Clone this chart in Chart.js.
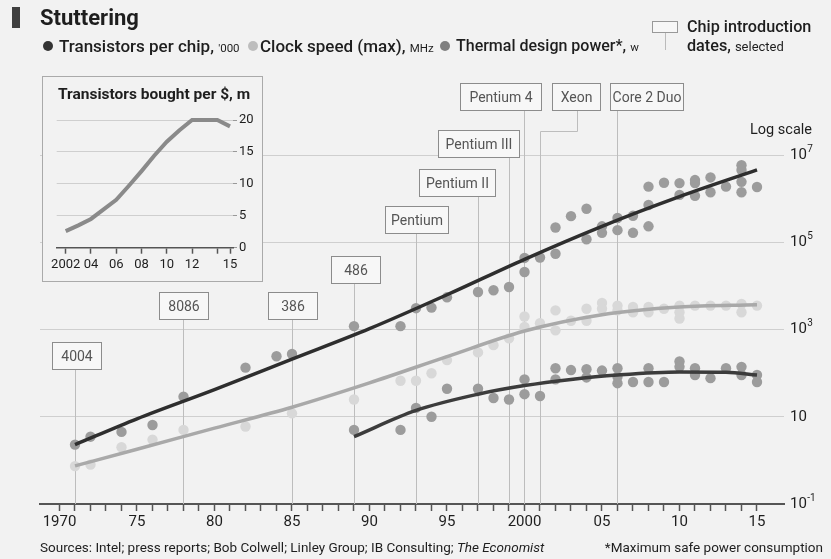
<!DOCTYPE html>
<html>
<head>
<meta charset="utf-8">
<script src="https://cdn.jsdelivr.net/npm/chart.js@4.4.1/dist/chart.umd.min.js"></script>
<style>
  body { margin: 0; background: #f2f2f2; }
  #wrap { position: relative; width: 831px; height: 559px; overflow: hidden;
          font-family: Roboto, "DejaVu Sans", sans-serif; color: #1e1e1e; background: #f2f2f2; }
  #main { position: absolute; left: 0; top: 0; }
  .abs { position: absolute; white-space: nowrap; line-height: 1; }
  #bar { left: 12px; top: 7px; width: 8px; height: 21px; background: #404040; }
  #title { left: 40px; top: 7px; font-size: 22px; font-weight: bold; }
  .dot { width: 10px; height: 10px; border-radius: 50%; top: 41px; }
  .leg { top: 38px; font-size: 17px; font-weight: 500; }
  .unit { font-size: 11.5px; font-weight: normal; }
  #chipIcon { left: 652px; top: 21px; width: 26px; height: 12px; border: 1px solid #999; background: #f7f7f7; box-sizing: border-box; }
  #chipStem { left: 665px; top: 33px; width: 1px; height: 17px; background: #bbb; }
  #chip1 { left: 687px; top: 19px; font-size: 16.2px; font-weight: 500; }
  #chip2 { left: 687px; top: 38px; font-size: 16.2px; font-weight: 500; }
  #inset { left: 42px; top: 76px; width: 221px; height: 206px; border: 1px solid #aaa;
           background: #f2f2f2; box-sizing: border-box; }
  #insetTitle { left: 15px; top: 10px; font-size: 15.5px; font-weight: bold; }
  #insetCanvas { position: absolute; left: 0; top: 0; }
  #src { left: 40px; top: 541px; font-size: 13.5px; }
  #note { right: 8px; top: 541px; font-size: 13.5px; }
</style>
</head>
<body>
<div id="wrap">
  <canvas id="main" width="831" height="559"></canvas>

  <div id="bar" class="abs"></div>
  <div id="title" class="abs">Stuttering</div>

  <div class="abs dot" style="left:43px;background:#333"></div>
  <div class="abs leg" style="left:59px">Transistors per chip, <span class="unit">'000</span></div>
  <div class="abs dot" style="left:248px;background:#bdbdbd"></div>
  <div class="abs leg" style="left:260px">Clock speed (max), <span class="unit">MHz</span></div>
  <div class="abs dot" style="left:440px;background:#808080"></div>
  <div class="abs leg" style="left:456px;font-size:16px">Thermal design power*, <span class="unit">w</span></div>

  <div id="chipIcon" class="abs"></div>
  <div id="chipStem" class="abs"></div>
  <div id="chip1" class="abs">Chip introduction</div>
  <div id="chip2" class="abs">dates, <span class="unit" style="font-size:13px">selected</span></div>

  <div id="inset" class="abs">
    <canvas id="insetCanvas" width="219" height="204"></canvas>
    <div id="insetTitle" class="abs">Transistors bought per $, m</div>
  </div>

  <div id="src" class="abs">Sources: Intel; press reports; Bob Colwell; Linley Group; IB Consulting; <i>The Economist</i></div>
  <div id="note" class="abs">*Maximum safe power consumption</div>
</div>

<script>
/* ---- data ---- */

// transistors per chip, '000
const transYears = [1971, 1972, 1974, 1976, 1978, 1982, 1984, 1985, 1989, 1992, 1993, 1994, 1995, 1997, 1998, 1999,
  2000, 2000, 2001, 2002, 2002, 2003, 2004, 2004, 2005, 2005, 2006, 2006, 2007, 2007, 2008, 2008, 2008, 2009,
  2010, 2010, 2011, 2011, 2011, 2012, 2012, 2013, 2014, 2014, 2014, 2014, 2015];
const transValues = [2.3, 3.5, 4.5, 6.5, 29, 134, 245, 275, 1200, 1200, 3100, 3200, 5500, 7300, 8000, 9500,
  44000, 21000, 45000, 220000, 55000, 400000, 590000, 118000, 234000, 166000, 363000, 191000, 407000, 166000,
  1900000, 720000, 234000, 2340000, 2290000, 1230000, 2690000, 2290000, 1170000, 3090000, 1410000, 1900000,
  5900000, 4570000, 2450000, 1410000, 1860000];

// clock speed (max), MHz
const clockYears = [1971, 1972, 1974, 1976, 1978, 1982, 1985, 1989, 1992, 1993, 1994, 1995, 1997, 1998, 1999,
  2000, 2000, 2001, 2002, 2002, 2003, 2004, 2004, 2005, 2005, 2006, 2006, 2007, 2007, 2008, 2008, 2009,
  2010, 2010, 2010, 2011, 2012, 2013, 2014, 2014, 2015];
const clockValues = [0.74, 0.8, 2, 3, 5, 6, 12, 25, 67, 67, 100, 200, 300, 440, 630,
  2000, 1150, 1400, 2760, 960, 1600, 3000, 1600, 4100, 3000, 3550, 2760, 3300, 2500, 3300, 2500, 3000,
  3550, 2500, 1800, 3550, 3550, 3550, 3900, 2500, 3550];

// thermal design power, w
const powerYears = [1989, 1992, 1993, 1994, 1995, 1997, 1998, 1999, 2000, 2000, 2001, 2002, 2002, 2003, 2004, 2004,
  2005, 2006, 2006, 2006, 2007, 2008, 2008, 2009, 2010, 2010, 2011, 2011, 2012, 2013, 2014, 2014, 2015, 2015];
const powerValues = [5, 5, 16, 10, 44, 44, 27, 25, 72, 33, 30, 130, 72, 118, 123, 80,
  115, 130, 83, 59, 63, 130, 63, 63, 185, 140, 130, 91, 77, 130, 140, 91, 91, 63];

// trend lines
const trendYears = [1971, 1975, 1980, 1985, 1990, 1995, 2000, 2005, 2010, 2015];
const transTrend = [2.3, 9, 42, 210, 1050, 6300, 41000, 234000, 1120000, 4600000];
const clockTrend = [0.75, 1.8, 5.5, 16.6, 60, 240, 930, 2200, 3300, 3700];
const powerTrendYears = [1989, 1993, 1997, 2000, 2003, 2006, 2010, 2013, 2015];
const powerTrend = [3.5, 14, 33, 52, 72, 91, 107, 105, 91];

// chip introduction dates
const chipNames = ['4004', '8086', '386', '486', 'Pentium', 'Pentium II', 'Pentium III', 'Pentium 4', 'Xeon', 'Core 2 Duo'];
const chipYears = [1971, 1978, 1985, 1989, 1993, 1997, 1999, 2000, 2001, 2006];

// axis ticks
const yTickValues = [0.1, 10, 1000, 100000, 10000000];
const yTickExp = ['-1', '', '3', '5', '7'];
const xTickYears = [];
for (let yr = 1970; yr <= 2015; yr++) xTickYears.push(yr);

// inset: transistors bought per $, m
const insetYears = [2002, 2003, 2004, 2005, 2006, 2007, 2008, 2009, 2010, 2011, 2012, 2013, 2014, 2015];
const insetValues = [2.6, 3.5, 4.5, 6.0, 7.5, 9.7, 12.0, 14.4, 16.6, 18.4, 20, 20, 20, 19];
const insetTicks = [2002, 2004, 2006, 2008, 2010, 2012, 2014, 2015];
const insetTickLabels = ['2002', '04', '06', '08', '10', '12', '', '15'];

const FONT = 'Roboto, "DejaVu Sans", sans-serif';

function pts(xs, ys) {
  return xs.map((x, i) => ({ x: x, y: ys[i] }));
}

/* box placement for the chip labels: [left offset from its line, top, width] */
const chipBoxes = [
  [-24, 342, 49], [-24.5, 292, 49], [-25, 292, 49], [-24, 256, 49], [-32, 206, 63],
  [-59.5, 169, 76], [-71.5, 130, 81], [-64.5, 83, 81], [11.5, 83, 48], [-8, 83, 73]
];

const chipPlugin = {
  id: 'chips',
  beforeDatasetsDraw(chart) {
    const ctx = chart.ctx, xs = chart.scales.x, bottom = chart.chartArea.bottom;
    ctx.save();
    chipYears.forEach((yr, i) => {
      const lx = Math.round(xs.getPixelForValue(yr)) + 0.5;
      const b = chipBoxes[i], h = 27;
      const bx = Math.round(lx + b[0]) + 0.5, top = b[1] + 0.5, w = b[2];
      ctx.strokeStyle = '#bdbdbd';
      ctx.lineWidth = 1;
      ctx.beginPath();
      if (b[0] > 0) {
        const cx = Math.round(bx + w / 2) + 0.5;
        ctx.moveTo(cx, top + h);
        ctx.lineTo(cx, top + h + 21);
        ctx.lineTo(lx, top + h + 21);
        ctx.lineTo(lx, bottom);
      } else {
        ctx.moveTo(lx, top + h);
        ctx.lineTo(lx, bottom);
      }
      ctx.stroke();
      ctx.fillStyle = '#f7f7f7';
      ctx.fillRect(bx, top, w, h);
      ctx.strokeStyle = '#8c8c8c';
      ctx.strokeRect(bx, top, w, h);
      ctx.fillStyle = '#555';
      ctx.font = '14px ' + FONT;
      ctx.textAlign = 'center';
      ctx.textBaseline = 'middle';
      ctx.fillText(chipNames[i], bx + w / 2, top + h / 2 + 1);
    });
    ctx.restore();
  }
};

/* y labels with superscript exponents */
const yLabelPlugin = {
  id: 'ylabels',
  afterDraw(chart) {
    const ctx = chart.ctx, ys = chart.scales.y, x0 = chart.chartArea.right + 6;
    ctx.save();
    ctx.fillStyle = '#1e1e1e';
    ctx.textAlign = 'left';
    ctx.textBaseline = 'middle';
    yTickValues.forEach((v, i) => {
      const py = ys.getPixelForValue(v);
      ctx.font = '15px ' + FONT;
      ctx.fillText('10', x0, py);
      const w = ctx.measureText('10').width;
      ctx.font = '10px ' + FONT;
      ctx.fillText(yTickExp[i], x0 + w + 0.5, py - 6);
    });
    ctx.font = '14.5px ' + FONT;
    ctx.textAlign = 'right';
    ctx.fillText('Log scale', 812, 130);
    ctx.restore();
  }
};

const dotStyle = { type: 'scatter', pointRadius: 5.2, pointHoverRadius: 5.2, borderWidth: 0, order: 2 };
const lineStyle = { type: 'line', pointRadius: 0, borderWidth: 3.5, cubicInterpolationMode: 'monotone', fill: false, order: 1 };

new Chart(document.getElementById('main'), {
  type: 'scatter',
  data: {
    datasets: [
      Object.assign({ data: pts(transYears, transValues), backgroundColor: '#9c9c9c' }, dotStyle),
      Object.assign({ data: pts(clockYears, clockValues), backgroundColor: '#d8d8d8' }, dotStyle),
      Object.assign({ data: pts(powerYears, powerValues), backgroundColor: '#9c9c9c' }, dotStyle),
      Object.assign({ data: pts(trendYears, transTrend), borderColor: '#2e2e2e' }, lineStyle),
      Object.assign({ data: pts(trendYears, clockTrend), borderColor: '#a9a9a9' }, lineStyle),
      Object.assign({ data: pts(powerTrendYears, powerTrend), borderColor: '#3c3c3c' }, lineStyle)
    ]
  },
  options: {
    responsive: false,
    animation: false,
    layout: { padding: { left: 40, top: 80, right: 0, bottom: 0 } },
    plugins: { legend: { display: false }, tooltip: { enabled: false } },
    scales: {
      x: {
        type: 'linear',
        min: 1970 + (40 - 59.5) / 15.5,
        max: 1970 + (784 - 59.5) / 15.5,
        afterBuildTicks: s => { s.ticks = xTickYears.map(v => ({ value: v })); },
        afterFit: s => { s.height = 55; },
        border: { display: true, color: '#555', width: 2 },
        grid: { drawOnChartArea: false, drawTicks: true, tickLength: 7, tickColor: '#555', tickWidth: 1.5 },
        ticks: {
          autoSkip: false, maxRotation: 0, padding: 2, color: '#1e1e1e',
          font: { family: FONT, size: 15 },
          callback: v => (v % 5 !== 0 ? '' : (v === 1970 || v === 2000 ? String(v) : String(v).slice(2)))
        }
      },
      y: {
        type: 'logarithmic',
        position: 'right',
        min: 0.1,
        max: Math.pow(10, (504 - 80) / 43.6 - 1),
        afterBuildTicks: s => { s.ticks = yTickValues.map(v => ({ value: v })); },
        afterFit: s => { s.width = 47; },
        border: { display: false },
        grid: { color: c => (c.tick && c.tick.value === 0.1 ? 'rgba(0,0,0,0)' : '#cfcfcf'), drawTicks: false },
        ticks: { display: false }
      }
    }
  },
  plugins: [chipPlugin, yLabelPlugin]
});

/* inset chart */
new Chart(document.getElementById('insetCanvas'), {
  type: 'line',
  data: {
    datasets: [{
      data: pts(insetYears, insetValues), borderColor: '#8a8a8a', borderWidth: 4,
      pointRadius: 0, tension: 0, clip: false
    }]
  },
  options: {
    responsive: false,
    animation: false,
    layout: { padding: { left: 13.7, top: 43, right: 0, bottom: 0 } },
    plugins: { legend: { display: false }, tooltip: { enabled: false } },
    scales: {
      x: {
        type: 'linear',
        min: 2002 - 9 / 12.65,
        max: 2015 + 3 / 12.65,
        afterBuildTicks: s => { s.ticks = insetTicks.map(v => ({ value: v })); },
        afterFit: s => { s.height = 204 - 170.7; },
        border: { display: true, color: '#555', width: 1.5 },
        grid: { drawOnChartArea: false, drawTicks: true, tickLength: 6, tickColor: '#555', tickWidth: 1.5 },
        ticks: {
          autoSkip: false, maxRotation: 0, padding: 3, color: '#1e1e1e',
          font: { family: FONT, size: 13 },
          callback: (v, i) => insetTickLabels[i]
        }
      },
      y: {
        position: 'right',
        min: 0,
        max: 20,
        afterBuildTicks: s => { s.ticks = [0, 5, 10, 15, 20].map(v => ({ value: v })); },
        afterFit: s => { s.width = 29; },
        border: { display: false },
        grid: {
          color: c => (c.tick && c.tick.value === 0 ? '#555' : '#cfcfcf'),
          drawTicks: true, tickLength: 4, tickColor: '#999'
        },
        ticks: { padding: 2, color: '#1e1e1e', font: { family: FONT, size: 13 } }
      }
    }
  }
});
</script>
</body>
</html>
